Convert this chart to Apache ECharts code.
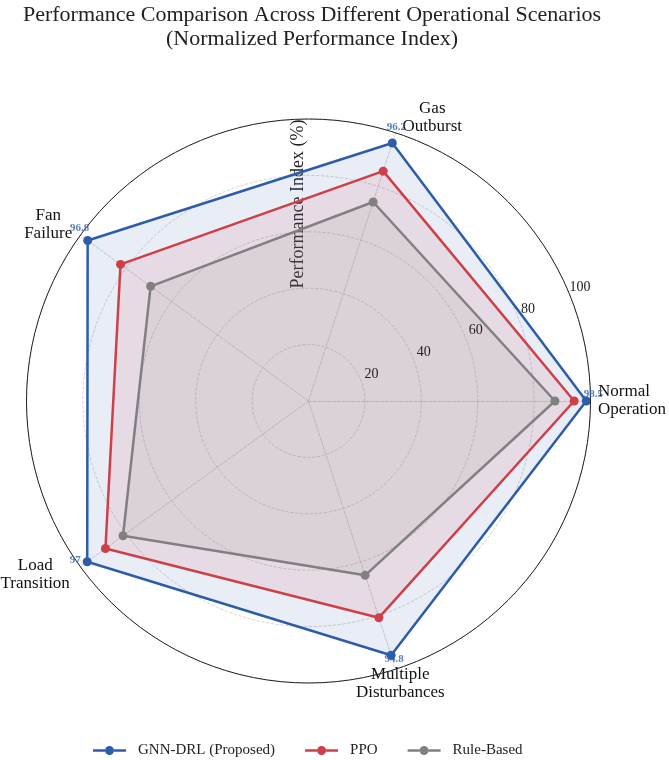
<!DOCTYPE html>
<html><head><meta charset="utf-8">
<script src="https://cdn.jsdelivr.net/npm/echarts@6/dist/echarts.min.js"></script>
<style>html,body{margin:0;padding:0;background:#fff}#c{width:669px;height:760px}</style>
</head><body><div id="c"></div>
<script>
const scenarios = ['Normal\nOperation', 'Gas\nOutburst', 'Fan\nFailure', 'Load\nTransition', 'Multiple\nDisturbances'];
const seriesNames = ['GNN-DRL (Proposed)', 'PPO', 'Rule-Based'];
const gnnDrl = [98.5, 96.2, 96.8, 97.0, 94.8];
const ppo = [94.2, 85.7, 82.4, 89.0, 80.8];
const ruleBased = [87.4, 74.2, 69.2, 81.3, 65.0];
const radialTicks = [20, 40, 60, 80, 100];

const FONT = '"Liberation Serif", "Times New Roman", serif';
const colors = ['#2D5DA8', '#CD4049', '#808080'];
const fills = ['rgba(45,93,168,0.15)', 'rgba(205,64,73,0.15)', 'rgba(128,128,128,0.15)'];
const CENTER = [308.5, 401];
const R = 282;
// label offsets (style) for value annotations
const labelOffsets = [[7, -7], [4, -16], [-8, -12], [-12, -2], [3, 4]];
// padding (style) for scenario names
const namePads = [[0, 0, 0, 53], [0, 0, 3, 64], [0, 40, 4, 0], [0, 66, 3, 0], [0, 0, 0, 0]];
const nameAligns = ['left', 'center', 'center', 'center', 'center'];

const rich = {};
namePads.forEach((p, i) => {
  rich['n' + i] = { padding: p, align: nameAligns[i], fontFamily: FONT, fontSize: 17, color: '#111', lineHeight: 18 };
});

const iconPath = 'path://M0,3.25h12v2.5H0z M21,3.25h12v2.5H21z M12,4.5a4.5,4.5 0 1,1 9,0a4.5,4.5 0 1,1 -9,0z';

const chart = echarts.init(document.getElementById('c'), null, { renderer: 'canvas' });
const dataSets = [gnnDrl, ppo, ruleBased];

const option = {
  backgroundColor: '#fff',
  animation: false,
  title: {
    text: 'Performance Comparison Across Different Operational Scenarios\n(Normalized Performance Index)',
    left: 312, top: 3, textAlign: 'center', padding: 0,
    textStyle: { fontFamily: FONT, fontSize: 22, fontWeight: 'normal', color: '#222', lineHeight: 24 }
  },
  legend: {
    data: seriesNames.map(n => ({ name: n, icon: iconPath })),
    left: 88, top: 738, itemWidth: 33, itemHeight: 9, itemGap: 30,
    textStyle: { fontFamily: FONT, fontSize: 15, color: '#222', padding: [0, 0, 0, 7] }
  },
  radar: {
    center: CENTER, radius: R, startAngle: 0, shape: 'circle', splitNumber: 5,
    indicator: scenarios.map(n => ({ name: n, min: 0, max: 100 })),
    nameGap: 15,
    axisName: {
      align: 'center', verticalAlign: 'middle',
      fontFamily: FONT, fontSize: 17, color: '#111',
      formatter: function (value) {
        const i = scenarios.indexOf(value);
        return value.split('\n').map(l => '{n' + i + '|' + l + '}').join('\n');
      },
      rich: rich
    },
    axisLine: { lineStyle: { color: '#c8c8c8', type: 'dashed', width: 0.8 } },
    splitLine: { lineStyle: { color: '#c8c8c8', type: 'dashed', width: 0.8 } },
    splitArea: { show: false },
    axisTick: { show: false },
    axisLabel: { show: false }
  },
  polar: [
    { center: CENTER, radius: R },
    { center: CENTER, radius: R }
  ],
  angleAxis: [
    { polarIndex: 0, type: 'value', min: 0, max: 360, startAngle: 22.5, clockwise: false,
      axisLine: { show: true, lineStyle: { color: '#222', width: 1 } },
      axisTick: { show: false }, axisLabel: { show: false }, splitLine: { show: false }, z: 5 },
    { polarIndex: 1, type: 'category', data: scenarios, boundaryGap: false, startAngle: 0, clockwise: false,
      axisLine: { show: false }, axisTick: { show: false }, axisLabel: { show: false }, splitLine: { show: false } }
  ],
  radiusAxis: [
    { polarIndex: 0, type: 'value', min: 0, max: 100, interval: 20,
      axisLine: { show: false }, axisTick: { show: false }, splitLine: { show: false },
      axisLabel: {
        show: true, margin: 0, align: 'center', verticalAlign: 'middle',
        formatter: v => radialTicks.indexOf(v) >= 0 ? '{t|' + v + '}' : '',
        rich: { t: { fontFamily: FONT, fontSize: 14, color: '#222', padding: [0, 0, 11, 22] } }
      }, z: 6 },
    { polarIndex: 1, type: 'value', min: 0, max: 100,
      axisLine: { show: false }, axisTick: { show: false }, splitLine: { show: false }, axisLabel: { show: false } }
  ],
  graphic: [{
    type: 'text', x: 298, y: 204, rotation: Math.PI / 2,
    style: { text: 'Performance Index (%)', font: '18px "Liberation Serif"', fill: '#222', align: 'center', verticalAlign: 'middle' }
  }],
  series: dataSets.map((d, k) => ({
    type: 'radar', name: seriesNames[k], z: 3 + k,
    symbol: 'circle', symbolSize: 9,
    lineStyle: { color: colors[k], width: 2.5 },
    itemStyle: { color: colors[k] },
    areaStyle: { color: fills[k] },
    data: [{ name: seriesNames[k], value: d }]
  })).concat([{
    type: 'scatter', name: 'labels', coordinateSystem: 'polar', polarIndex: 1,
    symbolSize: 0, silent: true, z: 10,
    label: {
      show: true, position: 'inside', color: colors[0], fontFamily: FONT, fontSize: 11, fontWeight: 'bold',
      formatter: p => String(p.value[0])
    },
    data: gnnDrl.map((v, i) => ({ value: [v, scenarios[i]], label: { offset: labelOffsets[i] } }))
  }])
};
chart.setOption(option);
</script>
</body></html>
